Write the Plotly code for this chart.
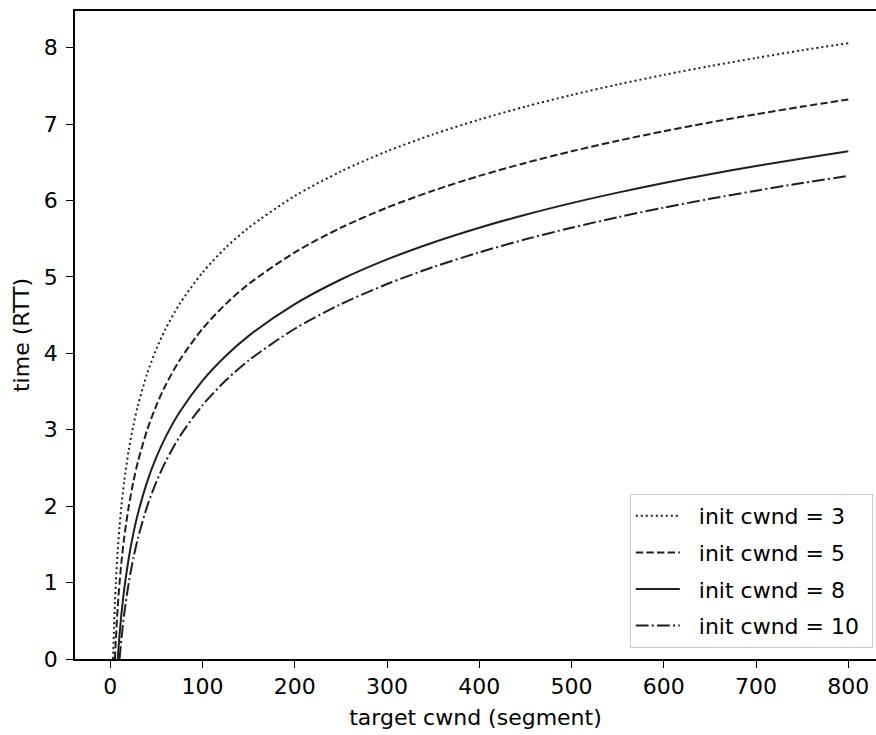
import plotly.graph_objects as go

# Slow-start time (in RTTs) to grow from the initial cwnd to a target cwnd
target_3 = [3, 4, 5, 6, 8, 10, 12, 15, 20, 25, 30, 40, 50, 60, 75, 100, 125, 150,
            200, 250, 300, 350, 400, 450, 500, 550, 600, 650, 700, 750, 800]
time_3 = [0, 0.415, 0.737, 1.0, 1.415, 1.737, 2.0, 2.322, 2.737, 3.059, 3.322, 3.737,
          4.059, 4.322, 4.644, 5.059, 5.381, 5.644, 6.059, 6.381, 6.644, 6.866, 7.059,
          7.229, 7.381, 7.518, 7.644, 7.759, 7.866, 7.966, 8.059]

target_5 = [5, 6, 8, 10, 12, 15, 20, 25, 30, 40, 50, 60, 75, 100, 125, 150,
            200, 250, 300, 350, 400, 450, 500, 550, 600, 650, 700, 750, 800]
time_5 = [0, 0.263, 0.678, 1.0, 1.263, 1.585, 2.0, 2.322, 2.585, 3.0, 3.322, 3.585,
          3.907, 4.322, 4.644, 4.907, 5.322, 5.644, 5.907, 6.129, 6.322, 6.492, 6.644,
          6.781, 6.907, 7.022, 7.129, 7.229, 7.322]

target_8 = [8, 10, 12, 15, 20, 25, 30, 40, 50, 60, 75, 100, 125, 150,
            200, 250, 300, 350, 400, 450, 500, 550, 600, 650, 700, 750, 800]
time_8 = [0, 0.322, 0.585, 0.907, 1.322, 1.644, 1.907, 2.322, 2.644, 2.907, 3.229,
          3.644, 3.966, 4.229, 4.644, 4.966, 5.229, 5.451, 5.644, 5.814, 5.966, 6.103,
          6.229, 6.344, 6.451, 6.551, 6.644]

target_10 = [10, 12, 15, 20, 25, 30, 40, 50, 60, 75, 100, 125, 150,
             200, 250, 300, 350, 400, 450, 500, 550, 600, 650, 700, 750, 800]
time_10 = [0, 0.263, 0.585, 1.0, 1.322, 1.585, 2.0, 2.322, 2.585, 2.907, 3.322, 3.644,
           3.907, 4.322, 4.644, 4.907, 5.129, 5.322, 5.492, 5.644, 5.781, 5.907, 6.022,
           6.129, 6.229, 6.322]

series_labels = ["init cwnd = 3", "init cwnd = 5", "init cwnd = 8", "init cwnd = 10"]
x_ticks = [0, 100, 200, 300, 400, 500, 600, 700, 800]
y_ticks = [0, 1, 2, 3, 4, 5, 6, 7, 8]

FONT = "DejaVu Sans"
FS = 22
LINE_COLOR = "#1f1f1f"

styles = [
    "2px,3px",                   # dotted
    "7.4px,3.2px",               # dashed
    "solid",                     # solid
    "12.8px,3.2px,2px,3.2px",    # dash-dot
]

fig = go.Figure()
for i, (xs, ys) in enumerate([(target_3, time_3), (target_5, time_5),
                              (target_8, time_8), (target_10, time_10)]):
    fig.add_trace(go.Scatter(
        x=xs, y=ys, mode="lines",
        # non-breaking spaces pad the legend text on both sides
        name="\u00a0\u00a0" + series_labels[i] + "\u00a0",
        legendgroup=f"g{i}",
        line=dict(color=LINE_COLOR, width=2, dash=styles[i], shape="spline", smoothing=0.8),
    ))

axis_font = dict(family=FONT, size=FS, color="black")

fig.update_layout(
    width=876, height=735,
    margin=dict(l=75, r=0, t=11, b=76),
    plot_bgcolor="white", paper_bgcolor="white",
    font=dict(family=FONT, size=FS, color="black"),
    xaxis=dict(
        range=[-38.3, 830], tickvals=x_ticks, ticktext=[str(v) for v in x_ticks],
        showgrid=False, zeroline=False, showline=True, linecolor="black", linewidth=1.5,
        mirror=True, ticks="outside", ticklen=7, tickwidth=1.3, tickcolor="black",
        tickfont=axis_font,
        title=dict(text="target cwnd (segment)", font=axis_font, standoff=11),
    ),
    yaxis=dict(
        range=[0, 8.48], tickvals=y_ticks, ticktext=[str(v) for v in y_ticks],
        showgrid=False, zeroline=False, showline=True, linecolor="black", linewidth=1.5,
        ticks="outside", ticklen=7, tickwidth=1.3, tickcolor="black",
        tickfont=axis_font, ticklabelstandoff=4,
        title=dict(text="time (RTT)", font=axis_font, standoff=8),
    ),
    legend=dict(
        x=0.996, y=0.017, xanchor="right", yanchor="bottom",
        bgcolor="rgba(255,255,255,0.8)", bordercolor="#cccccc", borderwidth=1,
        font=dict(family=FONT, size=FS, color="black"),
        tracegroupgap=5, itemwidth=44,
    ),
    showlegend=True,
)

fig.write_html("out.html")
